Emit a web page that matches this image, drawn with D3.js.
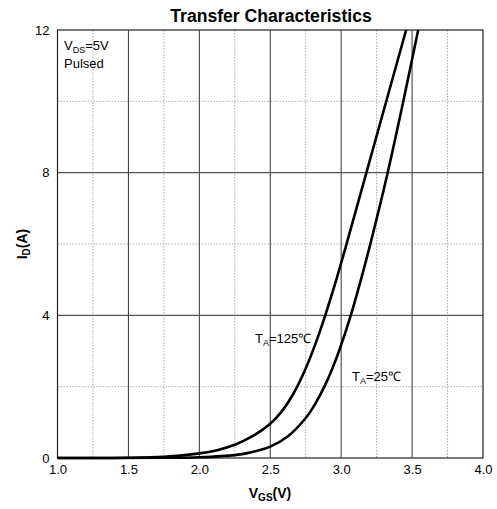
<!DOCTYPE html>
<html><head><meta charset="utf-8">
<script src="https://cdn.jsdelivr.net/npm/d3@7"></script>
<style>body{margin:0;background:#fff}svg{font-family:"Liberation Sans",Arial,sans-serif}</style>
</head><body>
<svg id="c" width="497" height="509"></svg>
<script>
const xTicks = [1.0, 1.5, 2.0, 2.5, 3.0, 3.5, 4.0];
const xMinor = [1.25, 1.75, 2.25, 2.75, 3.25, 3.75];
const yTicks = [0, 4, 8, 12];
const yMinor = [2, 6, 10];
const vgs125 = [1.0, 1.5, 1.75, 2.0, 2.125, 2.25, 2.375, 2.5, 2.58, 2.66, 2.75, 2.85, 2.95, 3.05, 3.175, 3.315, 3.458];
const id125  = [0, 0.005, 0.035, 0.13, 0.22, 0.37, 0.61, 0.96, 1.30, 1.78, 2.51, 3.55, 4.79, 6.17, 7.96, 9.96, 12];
const vgs25 = [1.0, 1.75, 2.0, 2.25, 2.375, 2.5, 2.625, 2.75, 2.82, 2.885, 2.94, 2.985, 3.07, 3.14, 3.205, 3.325, 3.43, 3.543];
const id25  = [0, 0.005, 0.02, 0.08, 0.17, 0.32, 0.61, 1.12, 1.54, 2.03, 2.53, 3.0, 4.03, 5.01, 5.99, 7.95, 9.85, 12];

const svg = d3.select("#c");
const L = 57.5, R = 483, T = 30, B = 458;
const x = d3.scaleLinear().domain([1, 4]).range([L, R]);
const y = d3.scaleLinear().domain([0, 12]).range([B, T]);
const g = svg.append("g");

// minor grid
g.selectAll(".xm").data(xMinor).join("line")
  .attr("x1", d => x(d)).attr("x2", d => x(d)).attr("y1", T).attr("y2", B)
  .attr("stroke", "#aaa").attr("stroke-width", 1).attr("stroke-dasharray", "1.5,1.5");
g.selectAll(".ym").data(yMinor).join("line")
  .attr("y1", d => y(d)).attr("y2", d => y(d)).attr("x1", L).attr("x2", R)
  .attr("stroke", "#aaa").attr("stroke-width", 1).attr("stroke-dasharray", "1.5,1.5");
// major grid
g.selectAll(".xM").data(xTicks.slice(1, -1)).join("line")
  .attr("x1", d => x(d)).attr("x2", d => x(d)).attr("y1", T).attr("y2", B)
  .attr("stroke", "#333").attr("stroke-width", 1);
g.selectAll(".yM").data(yTicks.slice(1, -1)).join("line")
  .attr("y1", d => y(d)).attr("y2", d => y(d)).attr("x1", L).attr("x2", R)
  .attr("stroke", "#555").attr("stroke-width", 1.2);
// frame
g.append("rect").attr("x", L).attr("y", T).attr("width", R - L).attr("height", B - T)
  .attr("fill", "none").attr("stroke", "#222").attr("stroke-width", 1.2);

// axes labels
const xa = svg.append("g").attr("transform", `translate(0,${B})`)
  .call(d3.axisBottom(x).tickValues(xTicks).tickFormat(d3.format(".1f")).tickSize(0).tickPadding(7));
xa.select(".domain").remove();
xa.selectAll("text").attr("font-size", 13).attr("fill", "#000").attr("font-family", "Liberation Sans, Arial, sans-serif");
const ya = svg.append("g").attr("transform", `translate(${L},0)`)
  .call(d3.axisLeft(y).tickValues(yTicks).tickFormat(d3.format("d")).tickSize(0).tickPadding(8));
ya.select(".domain").remove();
ya.selectAll("text").attr("font-size", 13).attr("fill", "#000").attr("font-family", "Liberation Sans, Arial, sans-serif");

// curves
const line = d3.line().x(d => x(d[0])).y(d => y(d[1])).curve(d3.curveCatmullRom.alpha(0.5));
[[vgs125, id125], [vgs25, id25]].forEach(([vx, vy]) => {
  g.append("path").datum(vx.map((v, i) => [v, vy[i]]))
    .attr("d", line).attr("fill", "none").attr("stroke", "#000").attr("stroke-width", 2.6);
});

// title
svg.append("text").attr("x", 271).attr("y", 22).attr("text-anchor", "middle")
  .attr("font-size", 17.6).attr("font-weight", "bold").text("Transfer Characteristics");

// x label
const xl = svg.append("text").attr("x", 270).attr("y", 498).attr("text-anchor", "middle")
  .attr("font-size", 14).attr("font-weight", "bold");
xl.append("tspan").text("V");
xl.append("tspan").attr("font-size", 10).attr("dy", 3).text("GS");
xl.append("tspan").attr("dy", -3).text("(V)");

// y label
const yl = svg.append("text").attr("transform", "translate(27,244) rotate(-90)")
  .attr("text-anchor", "middle").attr("font-size", 14).attr("font-weight", "bold");
yl.append("tspan").text("I");
yl.append("tspan").attr("font-size", 10).attr("dy", 3).text("D");
yl.append("tspan").attr("dy", -3).text("(A)");

// annotations
function subText(px, py, a, s, b) {
  const t = svg.append("text").attr("x", px).attr("y", py).attr("font-size", 13);
  t.append("tspan").text(a);
  t.append("tspan").attr("font-size", 9).attr("dy", 3).text(s);
  t.append("tspan").attr("dy", -3).text(b);
}
subText(64, 50, "V", "DS", "=5V");
svg.append("text").attr("x", 64).attr("y", 68).attr("font-size", 13).text("Pulsed");
subText(255, 343, "T", "A", "=125\u2103");
subText(352, 381, "T", "A", "=25\u2103");
</script>
</body></html>
